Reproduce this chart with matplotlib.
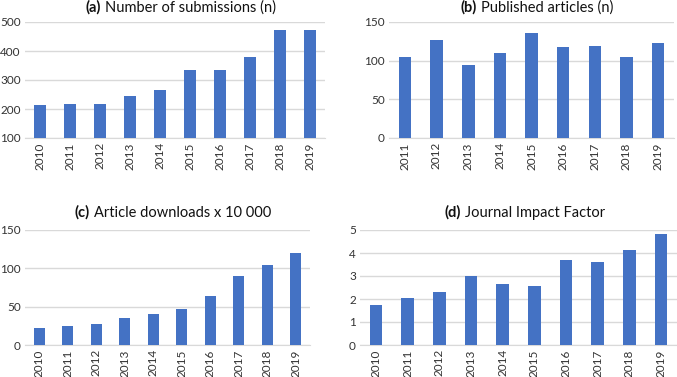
import matplotlib.pyplot as plt
import numpy as np
from matplotlib.offsetbox import TextArea, HPacker, AnchoredOffsetbox

plt.rcParams['font.family'] = ['Lato', 'DejaVu Sans']

years_a = ["2010", "2011", "2012", "2013", "2014", "2015", "2016", "2017", "2018", "2019"]
submissions = [213, 216, 216, 246, 264, 333, 335, 379, 473, 471]

years_b = ["2011", "2012", "2013", "2014", "2015", "2016", "2017", "2018", "2019"]
published = [105, 127, 95, 110, 136, 118, 119, 105, 123]

years_c = ["2010", "2011", "2012", "2013", "2014", "2015", "2016", "2017", "2018", "2019"]
downloads = [22, 25, 28, 35, 40, 47, 64, 90, 104, 120]

years_d = ["2010", "2011", "2012", "2013", "2014", "2015", "2016", "2017", "2018", "2019"]
impact = [1.72, 2.04, 2.30, 2.99, 2.64, 2.56, 3.71, 3.63, 4.12, 4.81]

W, H = 677, 377
fig = plt.figure(figsize=(W / 100, H / 100), dpi=100)

def px_axes(left, top, right, bottom):
    return fig.add_axes([left / W, 1 - bottom / H, (right - left) / W, (bottom - top) / H])

def panel(ax, cats, vals, ylim, step, letter, title, pad):
    x = np.arange(len(cats))
    ax.bar(x, vals, width=0.4, color="#4472C4", zorder=3)
    ax.set_xlim(-0.5, len(cats) - 0.5)
    ax.set_ylim(*ylim)
    ax.set_yticks(np.arange(ylim[0], ylim[1] + step / 2, step))
    ax.set_xticks(x)
    ax.set_xticklabels(cats, rotation=90)
    ax.yaxis.grid(True, color="#D9D9D9", linewidth=1)
    ax.set_axisbelow(True)
    for s in ["top", "right", "left"]:
        ax.spines[s].set_visible(False)
    ax.spines["bottom"].set_color("#D9D9D9")
    ax.tick_params(axis="both", length=0, labelsize=8.5, colors="#333333", pad=3)
    t1 = TextArea(letter, textprops=dict(fontsize=10.5, fontweight="bold", color="#111111"))
    t2 = TextArea(title, textprops=dict(fontsize=10.5, color="#111111"))
    box = HPacker(children=[t1, t2], align="baseline", pad=0, sep=3)
    ab = AnchoredOffsetbox(loc="lower center", child=box, frameon=False,
                           bbox_to_anchor=(0.52, 1.0), bbox_transform=ax.transAxes,
                           borderpad=pad)
    ax.add_artist(ab)

ax_a = px_axes(25, 22, 325, 138)
panel(ax_a, years_a, submissions, (100, 500), 100, "(a)", "Number of submissions (n)", 0.1)

ax_b = px_axes(389, 22, 674, 138)
panel(ax_b, years_b, published, (0, 150), 50, "(b)", "Published articles (n)", 0.1)

ax_c = px_axes(25, 230, 310, 345)
panel(ax_c, years_c, downloads, (0, 150), 50, "(c)", "Article downloads x 10 000", 0.35)

ax_d = px_axes(360, 230, 677, 345)
panel(ax_d, years_d, impact, (0, 5), 1, "(d)", "Journal Impact Factor", 0.35)

fig.savefig("out.png", dpi=100)
